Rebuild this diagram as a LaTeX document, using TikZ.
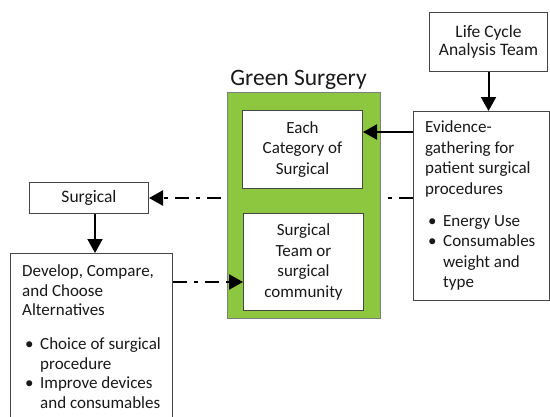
\documentclass[tikz,border=0pt]{standalone}
\usepackage{fontspec}
\setmainfont{Carlito}
\usetikzlibrary{arrows.meta}
\definecolor{gsgreen}{RGB}{141,198,63}
\definecolor{bordergray}{RGB}{70,70,70}
\definecolor{txt}{RGB}{25,25,25}
\newcommand{\mybul}{\makebox[18pt][l]{\hspace{3pt}\textbullet}}
\newcommand{\myind}{\makebox[18pt][l]{}}
\begin{document}
\begin{tikzpicture}[x=1pt,y=-1pt,
 box/.style={draw=bordergray, line width=1pt, fill=white, inner sep=0pt, rectangle, anchor=north west},
 body/.style={text=txt, align=left, inner sep=0pt, anchor=north west},
 ctext/.style={font=\fontsize{17}{20.5}\selectfont, text=txt, align=center, inner sep=0pt},
 solidarrow/.style={line width=2pt, -{Triangle[length=14pt,width=15pt]}},
 dasharrow/.style={line width=2.5pt, dash pattern=on 14pt off 7pt on 4pt off 7pt, -{Triangle[length=14pt,width=15pt]}}]
\useasboundingbox (0,0) rectangle (550,416);
\clip (0,0) rectangle (550,416);
\fill[white] (0,0) rectangle (550,416);
% outer boxes
\node[box, minimum width=136pt, minimum height=189pt] (ev) at (413,111) {};
\node[box, minimum width=119pt, minimum height=31pt] (surg) at (29,182) {};
% dash-dot connector behind green box
\draw[dasharrow] (ev.west |- surg.east) -- (surg.east);
% green box
\node[draw=bordergray!70, line width=0.8pt, fill=gsgreen, inner sep=0pt, anchor=north west, minimum width=153pt, minimum height=226pt] (green) at (227,92) {};
\node[font=\fontsize{23.5}{28}\selectfont, text=txt, inner sep=0pt, anchor=base] (title) at (298.5,85) {Green Surgery};
\node[box, minimum width=120pt, minimum height=78pt] (cat) at (242,110) {};
\node[box, minimum width=120pt, minimum height=97pt] (team) at (243,213) {};
\node[box, minimum width=118pt, minimum height=59pt] (lca) at (429,12) {};
\node[box, minimum width=162pt, minimum height=177pt] (dev) at (10,253) {};
% texts
\node[ctext, font=\fontsize{17.5}{18.5}\selectfont] (lcat) at (lca.center) {Life Cycle\\Analysis Team};
\node[ctext] (catt) at (cat.center) {Each\\Category of\\Surgical};
\node[ctext] (teamt) at (team.center) {Surgical\\Team or\\surgical\\community};
\node[ctext, font=\fontsize{17.5}{20.5}\selectfont] (surgt) at (surg.center) {Surgical};
\node[body, font=\fontsize{17}{20.5}\selectfont] (evt) at (425,118) {\strut Evidence-\\gathering for\\patient surgical\\procedures\\[11.5pt]\mybul Energy Use\\\mybul Consumables\\\myind weight and\\\myind type};
\node[body, font=\fontsize{17}{19.5}\selectfont] (devt) at (22,263) {\strut Develop, Compare,\\and Choose\\Alternatives\\[14.5pt]\mybul Choice of surgical\\\myind procedure\\\mybul Improve devices\\\myind and consumables};
% connectors
\coordinate (yA) at (0,132);
\coordinate (yC) at (0,282);
\coordinate (ax) at (95,0);
\draw[solidarrow] (lca.south) -- (lca.south |- ev.north);
\draw[solidarrow] (ev.west |- yA) -- (cat.east |- yA);
\draw[solidarrow] (ax |- surg.south) -- (ax |- dev.north);
\draw[dasharrow] (dev.east |- yC) -- (team.west |- yC);
\end{tikzpicture}
\end{document}
